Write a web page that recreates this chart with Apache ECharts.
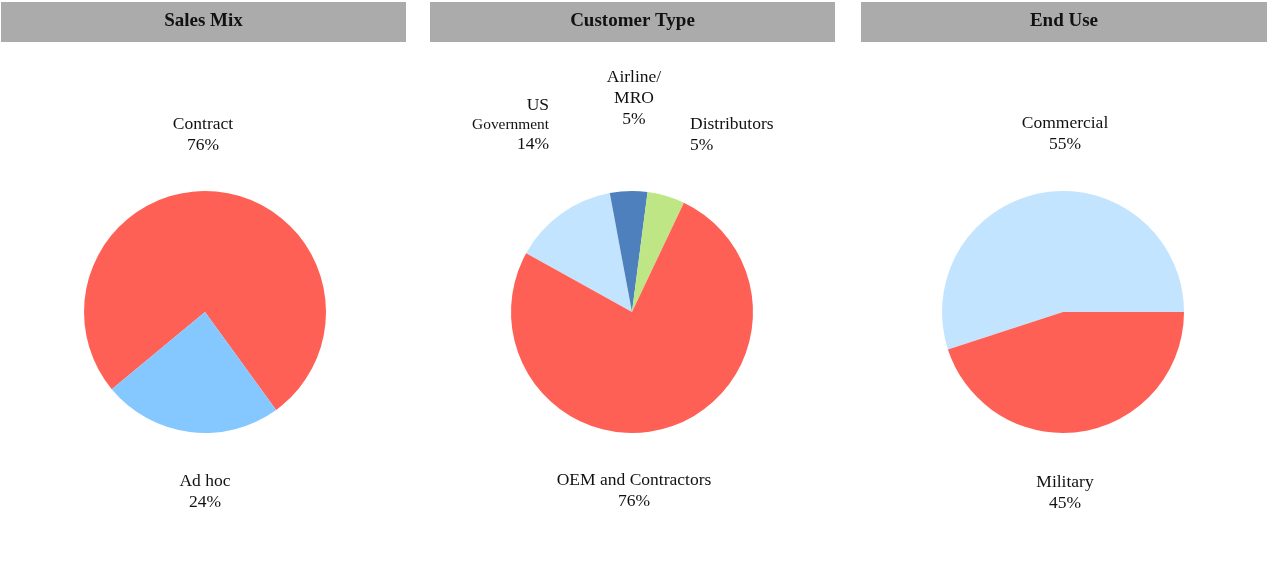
<!DOCTYPE html>
<html>
<head>
<meta charset="utf-8">
<script src="https://cdn.jsdelivr.net/npm/echarts@6/dist/echarts.min.js"></script>
<style>
html,body{margin:0;padding:0;background:#fff;}
#chart{width:1268px;height:575px;}
</style>
</head>
<body>
<div id="chart"></div>
<script>
// ---- data ----
var panelTitles = ['Sales Mix', 'Customer Type', 'End Use'];

var salesMixNames = ['Contract', 'Ad hoc'];
var salesMixValues = [76, 24];

var customerNames = ['US Government', 'Airline/MRO', 'Distributors', 'OEM and Contractors'];
var customerValues = [14, 5, 5, 76];

var endUseNames = ['Commercial', 'Military'];
var endUseValues = [55, 45];

// ---- style ----
var FONT = '"Liberation Serif", "Times New Roman", serif';
var RED = '#FF6056';
var panels = [
  {cx: 205, bar: [1, 405]},
  {cx: 632, bar: [430, 405]},
  {cx: 1063, bar: [861, 406]}
];
var CY = 312, R = 121;

// label placement offsets from pie centre (style only)
var labelOffsets = [
  [{dx: -2, dy: -177, align: 'center'}, {dx: 0, dy: 180, align: 'center'}],
  [{dx: -83, dy: -187, align: 'right'}, {dx: 2, dy: -214, align: 'center'},
   {dx: 58, dy: -177, align: 'left'}, {dx: 2, dy: 179, align: 'center'}],
  [{dx: 2, dy: -178, align: 'center'}, {dx: 2, dy: 181, align: 'center'}]
];

function pieData(names, values, colors, formatters) {
  return names.map(function (n, i) {
    return {
      name: n, value: values[i],
      itemStyle: {color: colors[i]},
      label: {formatter: formatters ? formatters[i] : '{b}\n{d}%'}
    };
  });
}

function makeSeries(idx, data, startAngle) {
  var p = panels[idx];
  return {
    type: 'pie',
    center: [p.cx, CY],
    radius: [0, R],
    startAngle: startAngle,
    clockwise: true,
    avoidLabelOverlap: false,
    animation: false,
    silent: true,
    data: data,
    label: {
      show: true,
      position: 'outside',
      fontFamily: FONT,
      fontSize: 17.5,
      lineHeight: 21,
      color: '#111',
      rich: {
        s: {fontFamily: FONT, fontSize: 15.4, lineHeight: 19, color: '#111'},
        n: {fontFamily: FONT, fontSize: 17.5, lineHeight: 20, color: '#111'},
        m: {fontFamily: FONT, fontSize: 17.5, lineHeight: 21, color: '#111'}
      }
    },
    labelLine: {show: false},
    labelLayout: function (params) {
      var o = labelOffsets[idx][params.dataIndex];
      return {
        x: p.cx + o.dx,
        y: CY + o.dy,
        align: o.align,
        verticalAlign: 'middle'
      };
    }
  };
}

function pct(values, i) {
  var s = values.reduce(function (a, b) { return a + b; }, 0);
  return Math.round(values[i] / s * 100) + '%';
}

var customerFormatters = [
  '{n|US}\n{s|Government}\n{n|' + pct(customerValues, 0) + '}',
  '{m|Airline/}\n{m|MRO}\n{m|' + pct(customerValues, 1) + '}',
  '{b}\n{d}%',
  '{b}\n{d}%'
];

var graphics = [];
panels.forEach(function (p, i) {
  graphics.push({
    type: 'rect', silent: true,
    shape: {x: p.bar[0], y: 2, width: p.bar[1], height: 40},
    style: {fill: '#ABABAB'}
  });
  graphics.push({
    type: 'text', silent: true,
    x: p.bar[0] + p.bar[1] / 2, y: 21,
    style: {
      text: panelTitles[i], fill: '#111',
      font: 'bold 19px ' + FONT,
      align: 'center', verticalAlign: 'middle'
    }
  });
});

var chart = echarts.init(document.getElementById('chart'), null, {renderer: 'canvas'});
chart.setOption({
  animation: false,
  backgroundColor: '#fff',
  graphic: graphics,
  series: [
    makeSeries(0, pieData(salesMixNames, salesMixValues, [RED, '#85C8FF']), 219.6),
    makeSeries(1, pieData(customerNames, customerValues,
      ['#C2E4FF', '#4D80BC', '#BEE685', RED], customerFormatters), 151),
    makeSeries(2, pieData(endUseNames, endUseValues, ['#C2E4FF', RED]), 198)
  ]
});
</script>
</body>
</html>
